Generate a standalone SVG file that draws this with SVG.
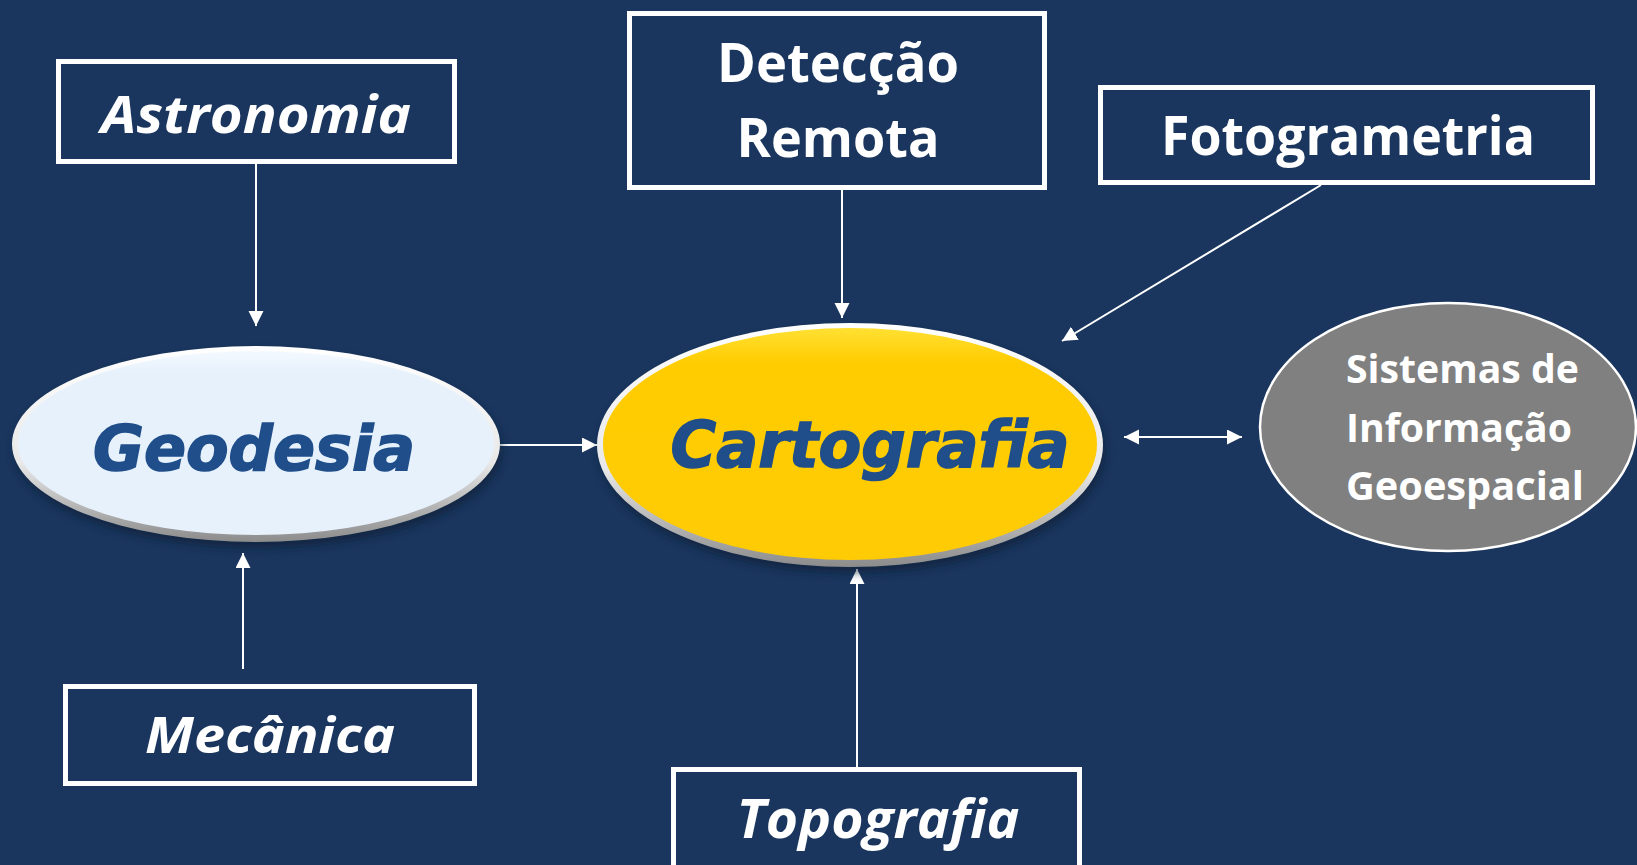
<svg xmlns="http://www.w3.org/2000/svg" width="1637" height="865" viewBox="0 0 1637 865">
<style>
.box{fill:none;stroke:#ffffff;stroke-width:5}
.bt{font-family:"Open Sans","Liberation Sans",sans-serif;font-weight:bold;fill:#ffffff;text-anchor:middle}
.it{font-style:italic}
.el{font-family:"DejaVu Sans","Liberation Sans",sans-serif;font-weight:bold;font-style:oblique;fill:#1f4e8a;stroke:#1f4e8a;stroke-width:1.6;text-anchor:middle}
.con{stroke:#ffffff;stroke-width:2;fill:none;marker-end:url(#ah)}
</style>
<defs>
<marker id="ah" markerUnits="userSpaceOnUse" markerWidth="16" markerHeight="16" refX="15" refY="7.5" orient="auto-start-reverse" viewBox="0 0 16 16">
<path d="M0,0 L15,7.5 L0,15 z" fill="#ffffff"/>
</marker>
<linearGradient id="rim" x1="0" y1="0" x2="0" y2="1">
<stop offset="0" stop-color="#ffffff"/>
<stop offset="0.6" stop-color="#e8e8e8"/>
<stop offset="1" stop-color="#8c8c8c"/>
</linearGradient>
<linearGradient id="geo" x1="0" y1="0" x2="0" y2="1">
<stop offset="0" stop-color="#f4f9ff"/>
<stop offset="0.12" stop-color="#e6f1fc"/>
<stop offset="1" stop-color="#e6f1fc"/>
</linearGradient>
<linearGradient id="yel" x1="0" y1="0" x2="0" y2="1">
<stop offset="0" stop-color="#ffe033"/>
<stop offset="0.15" stop-color="#ffcc00"/>
<stop offset="1" stop-color="#ffcb05"/>
</linearGradient>
<filter id="sh" x="-10%" y="-10%" width="120%" height="130%">
<feGaussianBlur stdDeviation="4"/>
</filter>
</defs>
<rect x="0" y="0" width="1637" height="865" fill="#1a365e"/>

<g id="connectors">
<line class="con" x1="256" y1="164" x2="256" y2="326"/>
<line class="con" x1="243" y1="669" x2="243" y2="553"/>
<line class="con" x1="500" y1="445" x2="597" y2="445"/>
<line class="con" x1="842" y1="190" x2="842" y2="318"/>
<line class="con" x1="1321" y1="185" x2="1062" y2="341"/>
<line class="con" x1="857" y1="767" x2="857" y2="569"/>
<line class="con" x1="1124" y1="437" x2="1242" y2="437" style="marker-start:url(#ah)"/>
</g>

<g id="astronomia">
<rect class="box" x="58.5" y="61.5" width="396" height="100"/>
<text class="bt it" x="256" y="133" font-size="52" textLength="310" lengthAdjust="spacingAndGlyphs">Astronomia</text>
</g>

<g id="deteccao">
<rect class="box" x="629.5" y="13.5" width="415" height="174"/>
<text class="bt" x="838" y="82" font-size="54" textLength="242" lengthAdjust="spacingAndGlyphs">Detecção</text>
<text class="bt" x="838" y="157" font-size="54" textLength="203" lengthAdjust="spacingAndGlyphs">Remota</text>
</g>

<g id="fotogrametria">
<rect class="box" x="1100.5" y="87.5" width="492" height="95"/>
<text class="bt" x="1348" y="155" font-size="54" textLength="374" lengthAdjust="spacingAndGlyphs">Fotogrametria</text>
</g>

<g id="mecanica">
<rect class="box" x="65.5" y="686.5" width="409" height="97"/>
<text class="bt it" x="270" y="753" font-size="50" textLength="250" lengthAdjust="spacingAndGlyphs">Mecânica</text>
</g>

<g id="topografia">
<rect class="box" x="673.5" y="769.5" width="406" height="120"/>
<text class="bt it" x="878" y="838" font-size="54" textLength="283" lengthAdjust="spacingAndGlyphs">Topografia</text>
</g>

<g id="geodesia">
<ellipse cx="258" cy="450" rx="244" ry="98" fill="#0a1a30" opacity="0.6" filter="url(#sh)"/>
<ellipse cx="256" cy="444" rx="244" ry="98" fill="url(#rim)"/>
<ellipse cx="256" cy="443" rx="238" ry="92" fill="url(#geo)"/>
<text class="el" x="254" y="470" font-size="62" textLength="322" lengthAdjust="spacingAndGlyphs">Geodesia</text>
</g>

<g id="cartografia">
<ellipse cx="852" cy="451" rx="253" ry="122" fill="#0a1a30" opacity="0.6" filter="url(#sh)"/>
<ellipse cx="850" cy="445" rx="253" ry="122" fill="url(#rim)"/>
<ellipse cx="850" cy="444" rx="247" ry="116" fill="url(#yel)"/>
<text class="el" x="870" y="467" font-size="64" textLength="399" lengthAdjust="spacingAndGlyphs">Cartografia</text>
</g>

<g id="sig">
<ellipse cx="1448" cy="427" rx="188" ry="124" fill="#808080" stroke="#ffffff" stroke-width="2.5"/>
<text class="bt" x="1346" y="383" font-size="39" style="text-anchor:start" textLength="233" lengthAdjust="spacingAndGlyphs">Sistemas de</text>
<text class="bt" x="1346" y="442" font-size="39" style="text-anchor:start" textLength="226" lengthAdjust="spacingAndGlyphs">Informação</text>
<text class="bt" x="1346" y="500" font-size="39" style="text-anchor:start" textLength="238" lengthAdjust="spacingAndGlyphs">Geoespacial</text>
</g>
</svg>
